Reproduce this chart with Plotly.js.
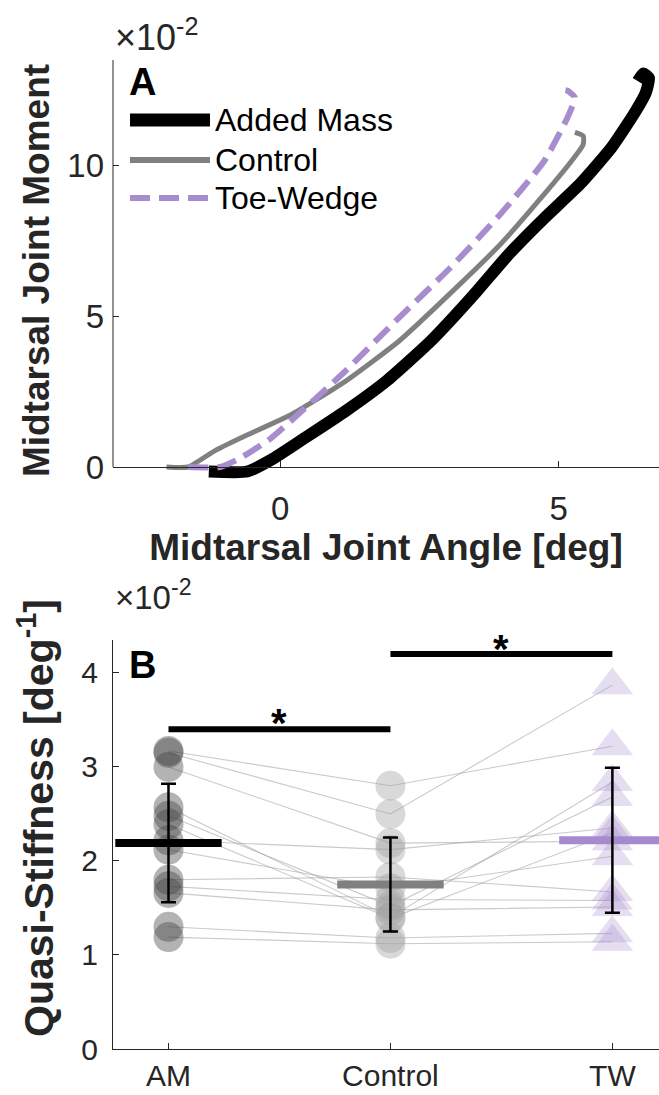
<!DOCTYPE html>
<html><head><meta charset="utf-8">
<script src="https://cdn.plot.ly/plotly-3.0.1.min.js"></script>
<style>body{margin:0;background:#fff}</style>
</head><body><div id="chart" style="width:659px;height:1095px"></div>
<script>
// ---------- Panel A: moment vs angle curves (moment in units of 1e-2) ----------
const amAngle   = [-1.28, -0.59, -0.16, 0.44, 1.17, 1.90, 2.70, 3.48, 4.10, 4.75, 5.38, 5.95, 6.38, 6.56, 6.62, 6.52, 6.42];
const amMoment  = [-0.15, -0.15, 0.24, 0.96, 1.85, 2.84, 4.17, 5.72, 7.05, 8.27, 9.38, 10.6, 11.8, 12.4, 12.9, 13.05, 12.8];
const ctlAngle  = [-2.04, -1.65, -1.19, -0.71, 0.20, 1.17, 2.13, 3.10, 3.95, 4.74, 5.23, 5.44, 5.44, 5.29];
const ctlMoment = [0, 0, 0.52, 0.96, 1.74, 2.84, 4.17, 5.84, 7.38, 9.05, 10.15, 10.7, 10.98, 11.1];
const twAngle   = [-1.65, -1.08, -0.71, -0.16, 0.32, 1.17, 2.13, 3.05, 3.95, 4.74, 5.16, 5.29, 5.16, 5.12];
const twMoment  = [0, 0, 0.30, 0.96, 1.74, 3.18, 4.95, 6.6, 8.38, 10.15, 11.6, 12.26, 12.48, 12.5];
const seriesNames = ['Added Mass', 'Control', 'Toe-Wedge'];

// ---------- Panel B: quasi-stiffness per subject (units of 1e-2 deg^-1) ----------
const categories = ['AM', 'Control', 'TW'];
const amStiff  = [3.17, 3.15, 3.00, 2.57, 2.48, 2.39, 2.22, 2.12, 1.80, 1.73, 1.66, 1.30, 1.19];
const ctlStiff = [2.80, 2.50, 2.19, 1.40, 1.52, 1.39, 2.12, 1.71, 1.83, 1.59, 1.48, 1.18, 1.12];
const twStiff  = [3.22, 3.87, 2.21, 2.84, 2.68, 2.30, 2.35, 2.05, 1.67, 1.58, 1.51, 1.23, 1.14];
const groupMean = [2.19, 1.75, 2.22];
const groupSD   = [0.63, 0.50, 0.77];
const sigFrom = [1, 2];
const sigTo   = [2, 3];
const sigHeight = [3.40, 4.20];

const FONT = 'Liberation Sans, Arial, Helvetica, sans-serif';
const AXC = '#262626';
const W = 659, H = 1095, ML = 113, MR = 0, MT = 60, MB = 46;
const px = v => (v - ML) / (W - ML - MR);
const py = v => (H - MB - v) / (H - MT - MB);

const A_ZERO = 467, A_TOP = 60, A_YMAX = 13.5;
const aScale = (A_ZERO - A_TOP) / A_YMAX;
const A_YMIN = -14 / aScale;

const purple = 'rgb(168,141,206)';
const traces = [];

traces.push({x: amAngle, y: amMoment, mode: 'lines', name: seriesNames[0], xaxis: 'x', yaxis: 'y',
  line: {color: '#000', width: 12, shape: 'spline', smoothing: 0.5}, showlegend: false});
traces.push({x: ctlAngle, y: ctlMoment, mode: 'lines', name: seriesNames[1], xaxis: 'x', yaxis: 'y',
  line: {color: '#808080', width: 5, shape: 'spline', smoothing: 0.5}, showlegend: false});
traces.push({x: twAngle, y: twMoment, mode: 'lines', name: seriesNames[2], xaxis: 'x', yaxis: 'y',
  line: {color: purple, width: 6, dash: '20px,9px', shape: 'spline', smoothing: 0.5}, showlegend: false});

const lx = [], ly = [];
for (let i = 0; i < amStiff.length; i++) {
  lx.push(1, 2, 3, null);
  ly.push(amStiff[i], ctlStiff[i], twStiff[i], null);
}
traces.push({x: lx, y: ly, mode: 'lines', xaxis: 'x2', yaxis: 'y2', showlegend: false,
  line: {color: 'rgba(150,150,150,0.5)', width: 1.1}, connectgaps: false, hoverinfo: 'skip'});

traces.push({x: amStiff.map(() => 1), y: amStiff, mode: 'markers', xaxis: 'x2', yaxis: 'y2', showlegend: false,
  marker: {symbol: 'circle', size: 30, color: 'rgb(64,64,64)', opacity: 0.4, line: {width: 0}}});
traces.push({x: ctlStiff.map(() => 2), y: ctlStiff, mode: 'markers', xaxis: 'x2', yaxis: 'y2', showlegend: false,
  marker: {symbol: 'circle', size: 30, color: 'rgb(160,160,160)', opacity: 0.4, line: {width: 0}}});
traces.push({x: twStiff.map(() => 3), y: twStiff, mode: 'markers', xaxis: 'x2', yaxis: 'y2', showlegend: false,
  marker: {symbol: 'triangle-up', size: 36, color: purple, opacity: 0.3, line: {width: 0}}});

const meanColors = ['#000000', '#808080', 'rgb(165,138,208)'];
traces.push({x: [1, 2, 3], y: groupMean, mode: 'markers', xaxis: 'x2', yaxis: 'y2', showlegend: false,
  marker: {symbol: 'line-ew', size: 76, line: {width: 8, color: meanColors}}});
traces.push({x: [1, 2, 3], y: groupMean, mode: 'markers', xaxis: 'x2', yaxis: 'y2', showlegend: false,
  marker: {size: 1, color: 'rgba(0,0,0,0)'},
  error_y: {type: 'data', array: groupSD, visible: true, color: '#000', thickness: 2.5, width: 7.5}});
for (let k = 0; k < sigFrom.length; k++) {
  traces.push({x: [sigFrom[k], sigTo[k]], y: [sigHeight[k], sigHeight[k]], mode: 'lines', xaxis: 'x2', yaxis: 'y2',
    showlegend: false, line: {color: '#000', width: 6}});
}

const axisCommon = {showgrid: false, zeroline: false, showline: true, linecolor: AXC, linewidth: 1,
  ticks: 'inside', ticklen: 6, tickcolor: AXC, tickfont: {family: FONT, size: 30, color: AXC}};

const annotations = [
  {xref: 'paper', yref: 'paper', x: px(113), y: py(60), xanchor: 'left', yanchor: 'bottom', showarrow: false,
   text: '×10<sup>-2</sup>', font: {family: FONT, size: 36, color: AXC}},
  {xref: 'paper', yref: 'paper', x: px(113), y: py(618), xanchor: 'left', yanchor: 'bottom', showarrow: false,
   text: '×10<sup>-2</sup>', font: {family: FONT, size: 33, color: AXC}},
  {xref: 'paper', yref: 'paper', x: px(127), y: py(82), xanchor: 'left', yanchor: 'middle', showarrow: false,
   text: '<b>A</b>', font: {family: FONT, size: 38, color: '#000'}},
  {xref: 'paper', yref: 'paper', x: px(127), y: py(665), xanchor: 'left', yanchor: 'middle', showarrow: false,
   text: '<b>B</b>', font: {family: FONT, size: 38, color: '#000'}},
  {xref: 'paper', yref: 'paper', x: px(36), y: py(818), xanchor: 'center', yanchor: 'middle', showarrow: false, textangle: -90,
   text: '<b>Quasi-Stiffness [deg<sup>-1</sup>]</b>', font: {family: FONT, size: 41, color: AXC}},
];
const legY = [120, 160, 198];
for (let i = 0; i < 3; i++) {
  annotations.push({xref: 'paper', yref: 'paper', x: px(213), y: py(legY[i]), xanchor: 'left', yanchor: 'middle',
    showarrow: false, text: seriesNames[i], font: {family: FONT, size: 32, color: '#000'}});
}
const starPx = [723, 649];
for (let k = 0; k < sigFrom.length; k++) {
  annotations.push({xref: 'x2', yref: 'paper', x: (sigFrom[k] + sigTo[k]) / 2, y: py(starPx[k]), xanchor: 'center', yanchor: 'middle',
    showarrow: false, text: '<b>*</b>', font: {family: FONT, size: 40, color: '#000'}});
}

const shapes = [
  {type: 'line', xref: 'paper', yref: 'y', x0: 0, x1: 0, y0: 0, y1: A_YMAX, line: {color: AXC, width: 1}},
  {type: 'line', xref: 'paper', yref: 'paper', x0: px(130), x1: px(210), y0: py(legY[0]), y1: py(legY[0]), line: {color: '#000', width: 13}},
  {type: 'line', xref: 'paper', yref: 'paper', x0: px(130), x1: px(210), y0: py(legY[1]), y1: py(legY[1]), line: {color: '#808080', width: 6}},
  {type: 'line', xref: 'paper', yref: 'paper', x0: px(130), x1: px(210), y0: py(legY[2]), y1: py(legY[2]), line: {color: purple, width: 6, dash: '20px,9px'}},
];

const layout = {
  width: W, height: H, margin: {l: ML, r: MR, t: MT, b: MB}, paper_bgcolor: '#fff', plot_bgcolor: '#fff',
  showlegend: false, font: {family: FONT, color: AXC},
  xaxis: Object.assign({}, axisCommon, {domain: [0, 1], anchor: 'free', position: py(A_ZERO), range: [-3, 6.8],
    tickvals: [0, 5], ticktext: ['0', '5'], tickfont: {family: FONT, size: 33, color: AXC}, ticklabelstandoff: 12,
    title: {text: '<b>Midtarsal Joint Angle [deg]</b>', font: {family: FONT, size: 37, color: AXC}, standoff: 8}}),
  yaxis: Object.assign({}, axisCommon, {domain: [py(A_ZERO + 14), 1], anchor: 'x', range: [A_YMIN, A_YMAX], showline: false,
    tickvals: [0, 5, 10], ticktext: ['0', '5', '10'], tickfont: {family: FONT, size: 33, color: AXC}, ticklabelstandoff: 8,
    title: {text: '<b>Midtarsal Joint Moment</b>', font: {family: FONT, size: 37, color: AXC}, standoff: 6}}),
  xaxis2: Object.assign({}, axisCommon, {domain: [0, 1], anchor: 'y2', range: [0.75, 3.21], tickvals: [1, 2, 3], ticktext: categories,
    ticklabelstandoff: 0}),
  yaxis2: Object.assign({}, axisCommon, {domain: [0, py(640)], anchor: 'x2', range: [0, 4.35], tickvals: [0, 1, 2, 3, 4], ticktext: ['0', '1', '2', '3', '4'],
    ticklabelstandoff: 8}),
  annotations: annotations, shapes: shapes
};

Plotly.newPlot('chart', traces, layout, {staticPlot: true});
</script></body></html>
